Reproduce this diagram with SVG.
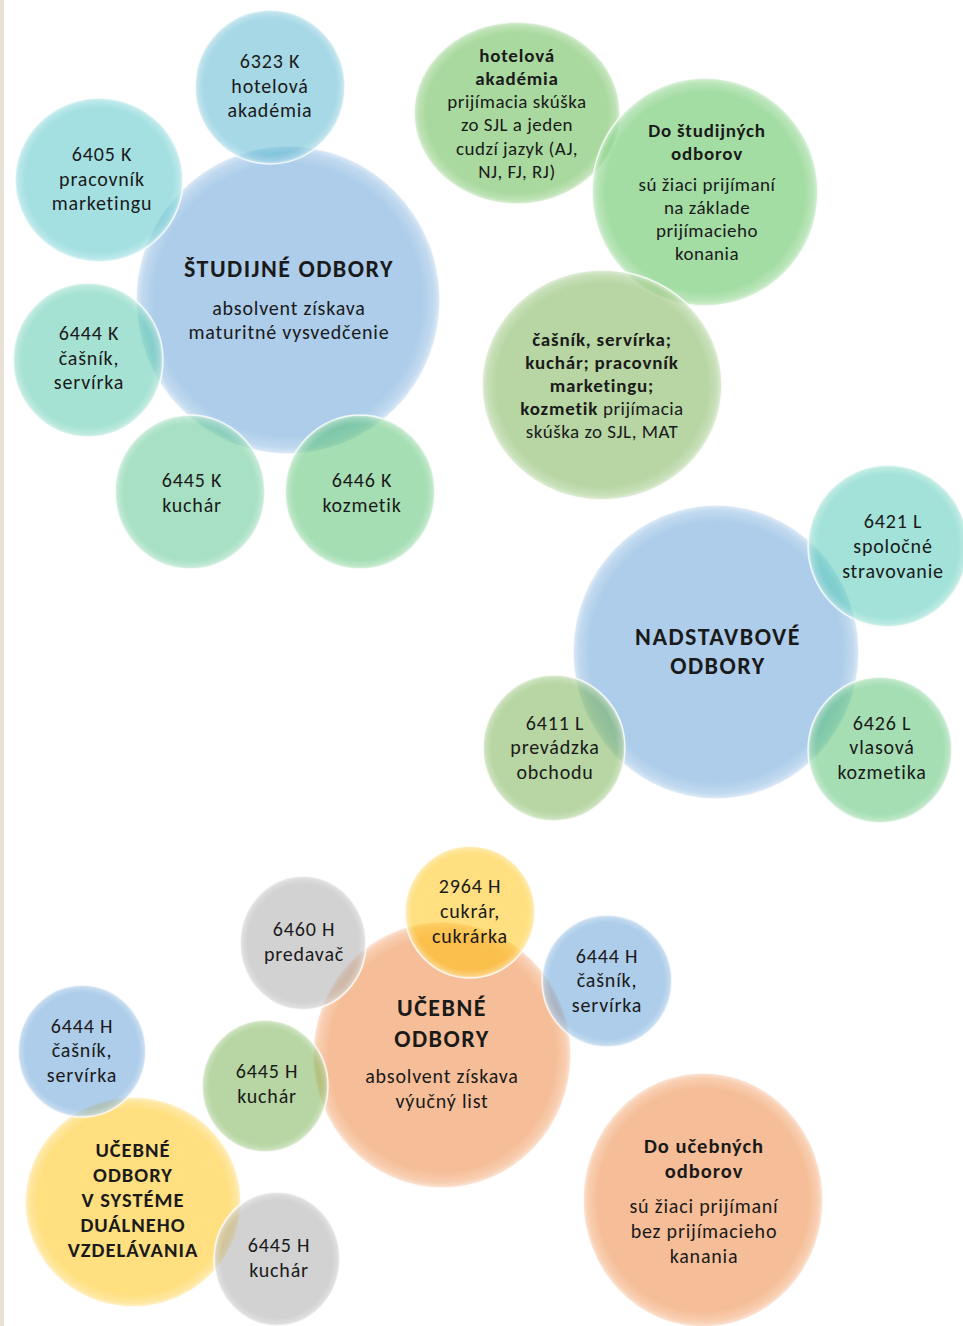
<svg xmlns="http://www.w3.org/2000/svg" width="963" height="1326" viewBox="0 0 963 1326">
<defs>
<radialGradient id="gloss" cx="0.5" cy="0.5" r="0.5">
<stop offset="0" stop-color="#fff" stop-opacity="0"/>
<stop offset="0.88" stop-color="#fff" stop-opacity="0"/>
<stop offset="0.96" stop-color="#fff" stop-opacity="0.25"/>
<stop offset="1" stop-color="#fff" stop-opacity="0.6"/>
</radialGradient>
<style>
.b{fill-opacity:0.5;stroke:#fff;stroke-opacity:0.8;stroke-width:1.5}
.g{fill:url(#gloss)}
text{font-family:Carlito,Lato,"Open Sans",sans-serif;font-size:20px;letter-spacing:0.8px;fill:#1a1a1a;text-anchor:middle}
.s{font-size:19px;letter-spacing:0.5px}
.t{font-weight:bold;font-size:24px;letter-spacing:1.5px}
.h{font-weight:bold;font-size:20.5px;letter-spacing:1px}
.hs{font-weight:bold;font-size:19px;letter-spacing:0.8px}
.blue{fill:#5B9BD5}.orange{fill:#ED7D31}.gray{fill:#A5A5A5}.gold{fill:#FFC000}.green{fill:#70AD47}
</style>
</defs>
<rect x="0" y="0" width="963" height="1326" fill="#fff"/>
<rect x="0" y="0" width="4" height="1326" fill="#e6e0d5"/>

<!-- large circles first -->
<g id="studijne">
<ellipse class="b blue" cx="288" cy="300" rx="152" ry="154"/>
<ellipse class="g" cx="288" cy="300" rx="152" ry="154"/>
<text class="t" x="289" y="277">ŠTUDIJNÉ ODBORY</text>
<text x="289" y="315">absolvent získava</text>
<text x="289" y="339">maturitné  vysvedčenie</text>
</g>
<g id="nadstavbove">
<ellipse class="b blue" cx="716" cy="652" rx="143" ry="147"/>
<ellipse class="g" cx="716" cy="652" rx="143" ry="147"/>
<text class="t" x="718" y="645">NADSTAVBOVÉ</text>
<text class="t" x="718" y="674">ODBORY</text>
</g>
<g id="ucebne">
<ellipse class="b orange" cx="442" cy="1055" rx="129" ry="133"/>
<ellipse class="g" cx="442" cy="1055" rx="129" ry="133"/>
<text class="t" x="442" y="1016">UČEBNÉ</text>
<text class="t" x="442" y="1047">ODBORY</text>
<text x="442" y="1083">absolvent získava</text>
<text x="442" y="1108">výučný  list</text>
</g>
<g id="dualne">
<ellipse class="b gold" cx="133" cy="1202" rx="108" ry="105"/>
<ellipse class="g" cx="133" cy="1202" rx="108" ry="105"/>
<text class="h" x="133" y="1157">UČEBNÉ</text>
<text class="h" x="133" y="1182">ODBORY</text>
<text class="h" x="133" y="1207">V SYSTÉME</text>
<text class="h" x="133" y="1232">DUÁLNEHO</text>
<text class="h" x="133" y="1257">VZDELÁVANIA</text>
</g>
<g id="do-ucebnych">
<ellipse class="b orange" cx="703" cy="1200" rx="120" ry="127"/>
<ellipse class="g" cx="703" cy="1200" rx="120" ry="127"/>
<text class="h" x="704" y="1153">Do učebných</text>
<text class="h" x="704" y="1178">odborov</text>
<text x="704" y="1213">sú žiaci prijímaní</text>
<text x="704" y="1238">bez prijímacieho</text>
<text x="704" y="1263">kanania</text>
</g>
<g id="hotelova-skuska">
<ellipse class="b" fill="#53B33D" cx="517" cy="113" rx="103" ry="91"/>
<ellipse class="g" cx="517" cy="113" rx="103" ry="91"/>
<text class="hs" x="517" y="62">hotelová</text>
<text class="hs" x="517" y="85">akadémia</text>
<text class="s" x="517" y="108">prijímacia skúška</text>
<text class="s" x="517" y="131">zo SJL a jeden</text>
<text class="s" x="517" y="155">cudzí jazyk (AJ,</text>
<text class="s" x="517" y="178">NJ, FJ, RJ)</text>
</g>
<g id="do-studijnych">
<ellipse class="b" fill="#49BB49" cx="705" cy="192" rx="113" ry="114"/>
<ellipse class="g" cx="705" cy="192" rx="113" ry="114"/>
<text class="hs" x="707" y="137">Do študijných</text>
<text class="hs" x="707" y="160">odborov</text>
<text class="s" x="707" y="191">sú žiaci prijímaní</text>
<text class="s" x="707" y="214">na základe</text>
<text class="s" x="707" y="237">prijímacieho</text>
<text class="s" x="707" y="260">konania</text>
</g>
<g id="skuska-sjl-mat">
<ellipse class="b green" cx="602" cy="385" rx="120" ry="115"/>
<ellipse class="g" cx="602" cy="385" rx="120" ry="115"/>
<text class="hs" x="602" y="346">čašník, servírka;</text>
<text class="hs" x="602" y="369">kuchár;  pracovník</text>
<text class="hs" x="602" y="392">marketingu;</text>
<text class="s" x="602" y="415"><tspan font-weight="bold" letter-spacing="0.8">kozmetik</tspan> prijímacia</text>
<text class="s" x="602" y="438">skúška zo SJL, MAT</text>
</g>

<!-- small circles -->
<g id="n6323K">
<ellipse class="b" fill="#4DB1CD" cx="270" cy="87" rx="75" ry="77"/>
<ellipse class="g" cx="270" cy="87" rx="75" ry="77"/>
<text x="270" y="68">6323 K</text>
<text x="270" y="93">hotelová</text>
<text x="270" y="117">akadémia</text>
</g>
<g id="n6405K">
<ellipse class="b" fill="#49C1C5" cx="99" cy="180" rx="84" ry="82"/>
<ellipse class="g" cx="99" cy="180" rx="84" ry="82"/>
<text x="102" y="161">6405 K</text>
<text x="102" y="186">pracovník</text>
<text x="102" y="210">marketingu</text>
</g>
<g id="n6444K">
<ellipse class="b" fill="#4DC5A7" cx="88" cy="360" rx="75" ry="77"/>
<ellipse class="g" cx="88" cy="360" rx="75" ry="77"/>
<text x="89" y="340">6444 K</text>
<text x="89" y="365">čašník,</text>
<text x="89" y="389">servírka</text>
</g>
<g id="n6445K">
<ellipse class="b" fill="#4FC187" cx="190" cy="492" rx="75" ry="77"/>
<ellipse class="g" cx="190" cy="492" rx="75" ry="77"/>
<text x="192" y="487">6445 K</text>
<text x="192" y="512">kuchár</text>
</g>
<g id="n6446K">
<ellipse class="b" fill="#4BBD67" cx="360" cy="492" rx="75" ry="77"/>
<ellipse class="g" cx="360" cy="492" rx="75" ry="77"/>
<text x="362" y="487">6446 K</text>
<text x="362" y="512">kozmetik</text>
</g>
<g id="n6421L">
<ellipse class="b" fill="#45C5B1" cx="888" cy="546" rx="80" ry="81"/>
<ellipse class="g" cx="888" cy="546" rx="80" ry="81"/>
<text x="893" y="528">6421 L</text>
<text x="893" y="553">spoločné</text>
<text x="893" y="578">stravovanie</text>
</g>
<g id="n6411L">
<ellipse class="b green" cx="554" cy="748" rx="71" ry="73"/>
<ellipse class="g" cx="554" cy="748" rx="71" ry="73"/>
<text x="555" y="730">6411 L</text>
<text x="555" y="754">prevádzka</text>
<text x="555" y="779">obchodu</text>
</g>
<g id="n6426L">
<ellipse class="b" fill="#4BBD67" cx="880" cy="750" rx="72" ry="73"/>
<ellipse class="g" cx="880" cy="750" rx="72" ry="73"/>
<text x="882" y="730">6426 L</text>
<text x="882" y="754">vlasová</text>
<text x="882" y="779">kozmetika</text>
</g>
<g id="n6460H">
<ellipse class="b gray" cx="303" cy="943" rx="63" ry="67"/>
<ellipse class="g" cx="303" cy="943" rx="63" ry="67"/>
<text x="304" y="936">6460 H</text>
<text x="304" y="961">predavač</text>
</g>
<g id="n2964H">
<ellipse class="b gold" cx="470" cy="912" rx="65" ry="66"/>
<ellipse class="g" cx="470" cy="912" rx="65" ry="66"/>
<text x="470" y="893">2964 H</text>
<text x="470" y="918">cukrár,</text>
<text x="470" y="943">cukrárka</text>
</g>
<g id="n6444H-right">
<ellipse class="b blue" cx="607" cy="981" rx="65" ry="66"/>
<ellipse class="g" cx="607" cy="981" rx="65" ry="66"/>
<text x="607" y="963">6444 H</text>
<text x="607" y="987">čašník,</text>
<text x="607" y="1012">servírka</text>
</g>
<g id="n6444H-left">
<ellipse class="b blue" cx="82" cy="1051" rx="64" ry="66"/>
<ellipse class="g" cx="82" cy="1051" rx="64" ry="66"/>
<text x="82" y="1033">6444 H</text>
<text x="82" y="1057">čašník,</text>
<text x="82" y="1082">servírka</text>
</g>
<g id="n6445H-green">
<ellipse class="b green" cx="265" cy="1086" rx="63" ry="66"/>
<ellipse class="g" cx="265" cy="1086" rx="63" ry="66"/>
<text x="267" y="1078">6445 H</text>
<text x="267" y="1103">kuchár</text>
</g>
<g id="n6445H-gray">
<ellipse class="b gray" cx="277" cy="1259" rx="63" ry="67"/>
<ellipse class="g" cx="277" cy="1259" rx="63" ry="67"/>
<text x="279" y="1252">6445 H</text>
<text x="279" y="1277">kuchár</text>
</g>
<g id="connectors"/>
</svg>
